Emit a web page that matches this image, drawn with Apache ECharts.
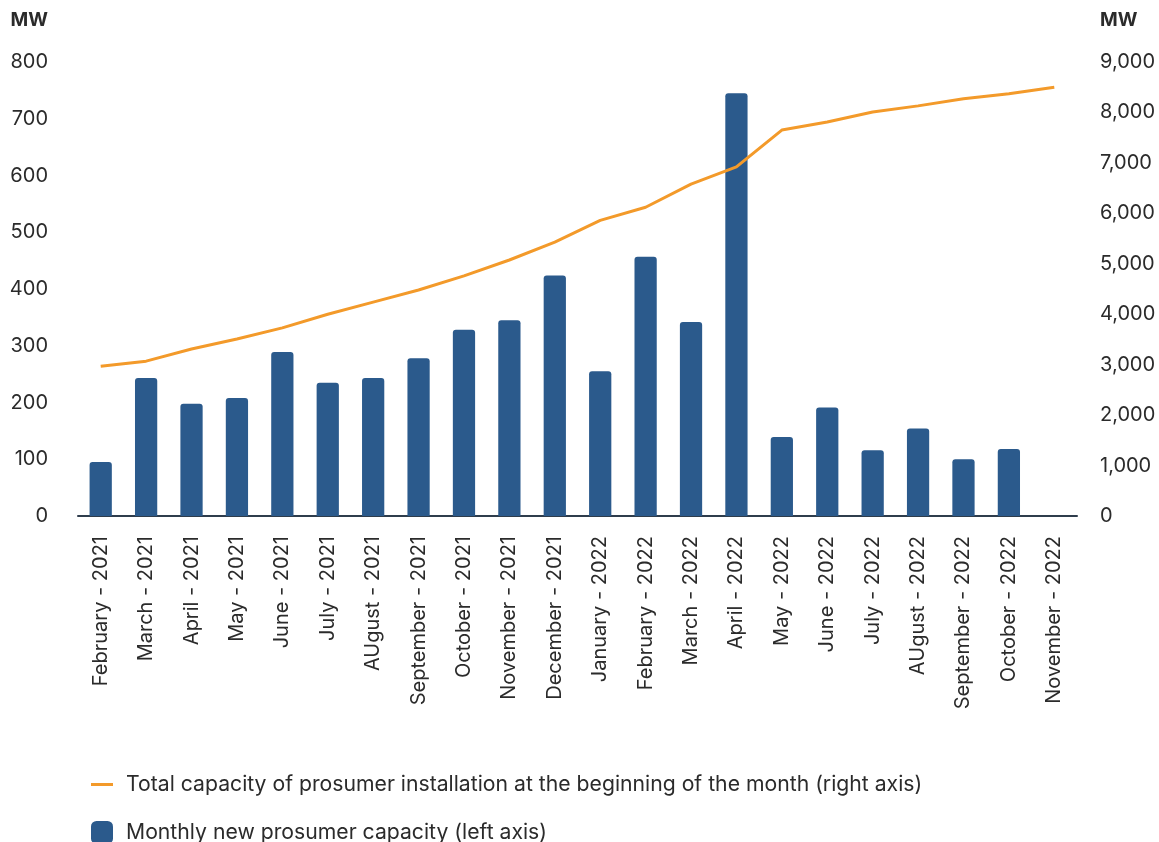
<!DOCTYPE html>
<html>
<head>
<meta charset="utf-8">
<script src="https://cdn.jsdelivr.net/npm/echarts@6/dist/echarts.min.js"></script>
<style>
  html, body { margin: 0; padding: 0; background: #fff; }
  #chart { width: 1159px; height: 842px; }
</style>
</head>
<body>
<div id="chart"></div>
<script>
const months = [
  'February - 2021', 'March - 2021', 'April - 2021', 'May - 2021', 'June - 2021',
  'July - 2021', 'AUgust - 2021', 'September - 2021', 'October - 2021',
  'November - 2021', 'December - 2021', 'January - 2022', 'February - 2022',
  'March - 2022', 'April - 2022', 'May - 2022', 'June - 2022', 'July - 2022',
  'AUgust - 2022', 'September - 2022', 'October - 2022', 'November - 2022'
]

// monthly new capacity, MW (left axis) - no bar for the last month
const monthlyNew = [95, 243, 198, 208, 289, 235, 243, 278, 328, 345, 424, 255, 457, 342, 745, 139, 191, 116, 154, 100, 118, null]

// total installed at start of month, MW (right axis)
const totalCapacity = [2970, 3070, 3310, 3510, 3730, 4000, 4240, 4480, 4760, 5075, 5430, 5860, 6120, 6580, 6920, 7650, 7810, 8010, 8130, 8270, 8370, 8500]

const leftTicks = { min: 0, max: 800, interval: 100 }
const rightTicks = { min: 0, max: 9000, interval: 1000 }

const lineName = 'Total capacity of prosumer installation at the beginning of the month (right axis)'
const barName = 'Monthly new prosumer capacity (left axis)'

const textColor = '#2b2b2b'
const barColor = '#2b5a8c'
const lineColor = '#f39a2a'
const fontFamily = 'Inter, "Noto Sans", sans-serif'

const chart = echarts.init(document.getElementById('chart'))

const option = {
  animation: false,
  textStyle: { fontFamily: fontFamily, color: textColor },
  grid: { left: 78, right: 82, top: 62, bottom: 326 },
  legend: [
    {
      data: [lineName],
      orient: 'vertical',
      left: 86,
      top: 769,
      icon: 'rect',
      itemWidth: 22,
      itemHeight: 3,
      itemGap: 0,
      textStyle: { fontSize: 21.2, color: textColor, fontFamily: fontFamily, padding: [0, 0, 0, 8] }
    },
    {
      data: [barName],
      orient: 'vertical',
      left: 86,
      top: 816,
      icon: 'roundRect',
      itemWidth: 22,
      itemHeight: 23,
      textStyle: { fontSize: 21.2, color: textColor, fontFamily: fontFamily, padding: [0, 0, 0, 8] }
    }
  ],
  xAxis: {
    type: 'category',
    data: months,
    axisLine: { lineStyle: { color: '#2f3d4c', width: 2 } },
    axisTick: { show: false },
    axisLabel: {
      rotate: 90,
      interval: 0,
      margin: 20,
      fontSize: 20,
      color: textColor,
      fontFamily: fontFamily
    }
  },
  yAxis: [
    {
      type: 'value',
      ...leftTicks,
      name: 'MW',
      nameLocation: 'end',
      nameGap: 42,
      nameTextStyle: {
        fontWeight: 'bold',
        fontSize: 19,
        color: textColor,
        align: 'right',
        verticalAlign: 'middle',
        padding: [0, 30, 0, 0]
      },
      splitLine: { show: false },
      axisLine: { show: false },
      axisTick: { show: false },
      axisLabel: { fontSize: 20, color: textColor, margin: 30 }
    },
    {
      type: 'value',
      ...rightTicks,
      position: 'right',
      name: 'MW',
      nameLocation: 'end',
      nameGap: 42,
      nameTextStyle: {
        fontWeight: 'bold',
        fontSize: 19,
        color: textColor,
        align: 'left',
        verticalAlign: 'middle',
        padding: [0, 0, 0, 23]
      },
      splitLine: { show: false },
      axisLine: { show: false },
      axisTick: { show: false },
      axisLabel: {
        fontSize: 20,
        color: textColor,
        margin: 23,
        formatter: v => v.toLocaleString('en-US')
      }
    }
  ],
  series: [
    {
      name: barName,
      type: 'bar',
      yAxisIndex: 0,
      data: monthlyNew,
      barWidth: '49%',
      itemStyle: { color: barColor, borderRadius: [3, 3, 0, 0] }
    },
    {
      name: lineName,
      type: 'line',
      yAxisIndex: 1,
      data: totalCapacity,
      symbol: 'none',
      lineStyle: { color: lineColor, width: 3 },
      itemStyle: { color: lineColor }
    }
  ]
}

chart.setOption(option)
window.addEventListener('resize', () => chart.resize())
</script>
</body>
</html>
